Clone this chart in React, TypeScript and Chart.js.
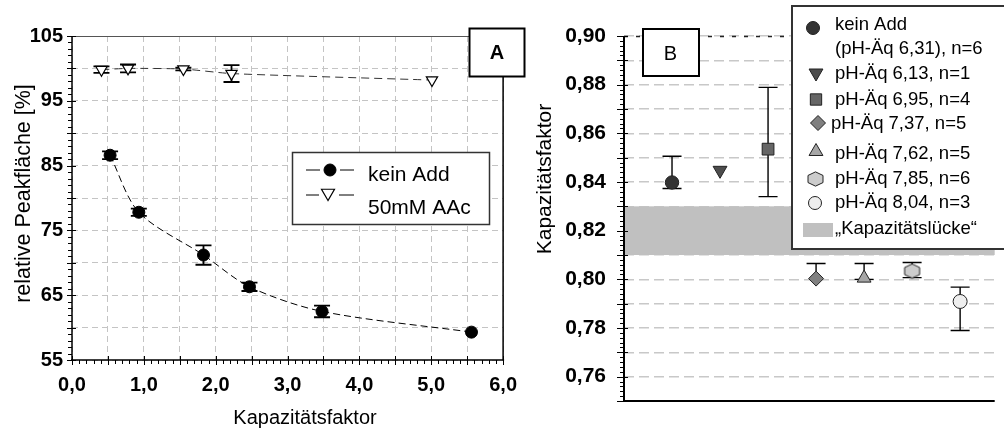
import React, { useEffect, useRef } from 'react';
import { Chart, registerables } from 'chart.js';

Chart.register(...registerables);

const FONT = '"Liberation Sans", Arial, Helvetica, sans-serif';

// ---------- Panel A data ----------
const kfKeinAdd = [0.53, 0.93, 1.83, 2.47, 3.48, 5.56];
const areaKeinAdd = [86.6, 77.8, 71.2, 66.3, 62.5, 59.3];
const errKeinAdd = [0.6, 0.55, 1.5, 0.65, 0.9, 0];
const kfAAc = [0.41, 0.78, 1.55, 2.22, 5.01];
const areaAAc = [99.8, 100.0, 99.9, 99.2, 98.2];
const errAAc = [0.5, 0.6, 0.2, 1.3, 0];
const seriesNamesA = ['kein Add', '50mM AAc'];
const xTicksA = [0, 1, 2, 3, 4, 5, 6];
const yTicksA = [55, 65, 75, 85, 95, 105];
const xTitleA = 'Kapazitätsfaktor';
const yTitleA = 'relative Peakfläche [%]';
const panelLabelA = 'A';

// ---------- Panel B data ----------
const bLabels = [
  ['kein Add', '(pH-Äq 6,31), n=6'],
  ['pH-Äq 6,13, n=1'],
  ['pH-Äq 6,95, n=4'],
  ['pH-Äq 7,37, n=5'],
  ['pH-Äq 7,62, n=5'],
  ['pH-Äq 7,85, n=6'],
  ['pH-Äq 8,04, n=3'],
];
const bPos = [1, 2, 3, 4, 5, 6, 7];
const bValues = [0.8398, 0.8448, 0.8535, 0.8003, 0.8005, 0.8034, 0.7909];
const bHigh = [0.8506, null, 0.8789, 0.8065, 0.8065, 0.8069, 0.7968];
const bLow = [0.8373, null, 0.834, 0.8003, 0.8, 0.8007, 0.779];
const gapRange = [0.81, 0.83];
const gapLabel = '„Kapazitätslücke“';
const yTicksB = [0.76, 0.78, 0.8, 0.82, 0.84, 0.86, 0.88, 0.9];
const yTitleB = 'Kapazitätsfaktor';
const panelLabelB = 'B';

// ---------- styles ----------
const bStyles = ['circle', 'triDown', 'rect', 'diamond', 'triUp', 'hex', 'circle'];
const bFills = ['#333333', '#4d4d4d', '#666666', '#808080', '#a6a6a6', '#cccccc', '#eeeeee'];

function fmt(v: number, d: number) {
  return v.toFixed(d).replace('.', ',');
}

function drawMarker(ctx: CanvasRenderingContext2D, style: string, x: number, y: number, r: number, fill: string, stroke: string, lw: number) {
  ctx.save();
  ctx.beginPath();
  const tri = (start: number) => {
    for (let k = 0; k < 3; k++) {
      const a = start + (k * 2 * Math.PI) / 3;
      const px = x + r * Math.sin(a);
      const py = y - r * Math.cos(a);
      if (k === 0) ctx.moveTo(px, py);
      else ctx.lineTo(px, py);
    }
    ctx.closePath();
  };
  if (style === 'circle') ctx.arc(x, y, r, 0, Math.PI * 2);
  else if (style === 'triUp') tri(0);
  else if (style === 'triDown') tri(Math.PI);
  else if (style === 'rect') {
    const s = r * Math.SQRT1_2;
    ctx.rect(x - s, y - s, 2 * s, 2 * s);
  } else if (style === 'diamond') {
    ctx.moveTo(x, y - r);
    ctx.lineTo(x + r, y);
    ctx.lineTo(x, y + r);
    ctx.lineTo(x - r, y);
    ctx.closePath();
  } else if (style === 'hex') {
    const w = r;
    const h = r * 0.95;
    ctx.moveTo(x, y - h);
    ctx.lineTo(x + w, y - h / 2);
    ctx.lineTo(x + w, y + h / 2);
    ctx.lineTo(x, y + h);
    ctx.lineTo(x - w, y + h / 2);
    ctx.lineTo(x - w, y - h / 2);
    ctx.closePath();
  }
  ctx.fillStyle = fill;
  ctx.fill();
  ctx.lineWidth = lw;
  ctx.strokeStyle = stroke;
  ctx.stroke();
  ctx.restore();
}

const errorBars = {
  id: 'errorBars',
  beforeDatasetsDraw(chart: any) {
    const ctx = chart.ctx;
    const ys = chart.scales.y;
    chart.data.datasets.forEach((ds: any, i: number) => {
      if (!ds.errLow) return;
      const meta = chart.getDatasetMeta(i);
      meta.data.forEach((el: any, j: number) => {
        const lo = ds.errLow[j];
        const hi = ds.errHigh[j];
        const v = ds.data[j].y;
        if (lo == null || hi == null || lo === hi) return;
        const x = el.x;
        const yl = ys.getPixelForValue(lo);
        const yh = ys.getPixelForValue(hi);
        const c = ds.capHalf;
        ctx.save();
        ctx.strokeStyle = '#000';
        ctx.lineWidth = ds.errWidth;
        ctx.beginPath();
        ctx.moveTo(x, yh);
        ctx.lineTo(x, yl);
        if (hi > v) {
          ctx.moveTo(x - c, yh);
          ctx.lineTo(x + c, yh);
        }
        if (lo < v) {
          ctx.moveTo(x - c, yl);
          ctx.lineTo(x + c, yl);
        }
        ctx.stroke();
        ctx.restore();
      });
    });
  },
};

function line(ctx: CanvasRenderingContext2D, x1: number, y1: number, x2: number, y2: number) {
  ctx.beginPath();
  ctx.moveTo(x1, y1);
  ctx.lineTo(x2, y2);
  ctx.stroke();
}

const decorA = {
  id: 'decorA',
  afterDatasetsDraw(chart: any) {
    const ctx = chart.ctx;
    const { left, right, top, bottom } = chart.chartArea;
    const xs = chart.scales.x;
    const ys = chart.scales.y;
    ctx.save();
    // frame
    ctx.strokeStyle = '#555';
    ctx.lineWidth = 1;
    line(ctx, left, top + 0.5, right, top + 0.5);
    ctx.strokeStyle = '#000';
    ctx.lineWidth = 1.5;
    line(ctx, right, top, right, bottom);
    line(ctx, left, top, left, bottom + 1);
    line(ctx, left - 1, bottom, right + 1, bottom);
    // ticks
    ctx.lineWidth = 1;
    for (let k = 55; k <= 105; k++) {
      const y = Math.round(ys.getPixelForValue(k)) + 0.5;
      if (k % 5 === 0) line(ctx, left - 5, y, left + 4, y);
      else line(ctx, left - 4, y, left, y);
    }
    for (let k = 0; k <= 60; k++) {
      const x = Math.round(xs.getPixelForValue(k / 10)) + 0.5;
      if (k % 5 === 0) line(ctx, x, bottom - 4, x, bottom + 5);
      else line(ctx, x, bottom, x, bottom + 4);
    }
    ctx.restore();
  },
  afterDraw(chart: any) {
    const ctx = chart.ctx;
    ctx.save();
    ctx.fillStyle = '#000';
    // axis titles
    ctx.font = `20px ${FONT}`;
    ctx.textAlign = 'center';
    ctx.textBaseline = 'middle';
    ctx.fillText(xTitleA, 305, 418);
    ctx.save();
    ctx.translate(24, 193.5);
    ctx.rotate(-Math.PI / 2);
    ctx.font = `21.5px ${FONT}`;
    ctx.fillText(yTitleA, 0, 0);
    ctx.restore();
    // legend
    ctx.fillStyle = '#fff';
    ctx.fillRect(292.5, 152.5, 197, 72);
    ctx.strokeStyle = '#333';
    ctx.lineWidth = 1.5;
    ctx.strokeRect(292.5, 152.5, 197, 72);
    ctx.strokeStyle = '#000';
    ctx.lineWidth = 1;
    line(ctx, 306, 170, 320, 170);
    line(ctx, 340, 170, 354, 170);
    drawMarker(ctx, 'circle', 330, 170, 6, '#000', '#000', 1);
    line(ctx, 306, 195, 319, 195);
    line(ctx, 339, 195, 354, 195);
    drawMarker(ctx, 'triDown', 328, 193, 7.5, '#fff', '#000', 1.2);
    ctx.fillStyle = '#000';
    ctx.font = `21px ${FONT}`;
    ctx.textAlign = 'left';
    ctx.fillText(seriesNamesA[0], 368, 175);
    ctx.fillText(seriesNamesA[1], 368, 208);
    // panel label
    ctx.fillStyle = '#fff';
    ctx.fillRect(469.5, 28.5, 55, 48);
    ctx.strokeStyle = '#000';
    ctx.lineWidth = 2;
    ctx.strokeRect(469.5, 28.5, 55, 48);
    ctx.fillStyle = '#000';
    ctx.font = `bold 20px ${FONT}`;
    ctx.textAlign = 'center';
    ctx.fillText(panelLabelA, 497, 53.5);
    ctx.restore();
  },
};

const decorB = {
  id: 'decorB',
  beforeDatasetsDraw(chart: any) {
    const ctx = chart.ctx;
    const { left, right } = chart.chartArea;
    const ys = chart.scales.y;
    const y1 = ys.getPixelForValue(gapRange[1]);
    const y2 = ys.getPixelForValue(gapRange[0]);
    ctx.save();
    ctx.fillStyle = '#c0c0c0';
    ctx.fillRect(left, y1, right - left, y2 - y1);
    ctx.restore();
  },
  afterDatasetsDraw(chart: any) {
    const ctx = chart.ctx;
    const { left, right, top, bottom } = chart.chartArea;
    const ys = chart.scales.y;
    ctx.save();
    ctx.strokeStyle = '#222';
    ctx.lineWidth = 1.5;
    ctx.setLineDash([4, 8]);
    line(ctx, left, top + 0.5, right, top + 0.5);
    ctx.setLineDash([]);
    ctx.strokeStyle = '#000';
    ctx.lineWidth = 2;
    line(ctx, left, top, left, bottom + 1);
    line(ctx, left - 1, bottom, right, bottom);
    ctx.lineWidth = 1;
    for (let k = 375; k <= 450; k++) {
      const y = Math.round(ys.getPixelForValue(k * 0.002)) + 0.5;
      if (k % 5 === 0) line(ctx, left - 7, y, left + 4, y);
      else line(ctx, left - 4, y, left, y);
    }
    ctx.restore();
  },
  afterDraw(chart: any) {
    const ctx = chart.ctx;
    ctx.save();
    // y title
    ctx.fillStyle = '#000';
    ctx.font = `21px ${FONT}`;
    ctx.textAlign = 'center';
    ctx.textBaseline = 'middle';
    ctx.save();
    ctx.translate(25.5, 179);
    ctx.rotate(-Math.PI / 2);
    ctx.fillText(yTitleB, 0, 0);
    ctx.restore();
    // panel label
    ctx.fillStyle = '#fff';
    ctx.fillRect(123, 29, 56, 47);
    ctx.strokeStyle = '#000';
    ctx.lineWidth = 2;
    ctx.strokeRect(123, 29, 56, 47);
    ctx.fillStyle = '#000';
    ctx.font = `20px ${FONT}`;
    ctx.fillText(panelLabelB, 150.5, 54.5);
    // legend
    ctx.fillStyle = '#fff';
    ctx.fillRect(272, 6, 300, 243);
    ctx.strokeStyle = '#333';
    ctx.lineWidth = 2;
    ctx.strokeRect(272, 6, 300, 243);
    const rowY = [25, 74, 100, 123.5, 153.5, 179, 202.5];
    const markY = [28, 73, 99.5, 123, 151.5, 179, 203];
    const markX = [293, 296, 296, 298, 296, 295.5, 295];
    const markR = [6.5, 8, 8, 7.5, 8, 7.5, 6.5];
    ctx.font = `18.5px ${FONT}`;
    ctx.textAlign = 'left';
    bLabels.forEach((lines, i) => {
      drawMarker(ctx, bStyles[i], markX[i], markY[i], markR[i], bFills[i], '#222', 1);
      ctx.fillStyle = '#000';
      lines.forEach((t, k) => {
        ctx.fillText(t, i === 3 ? 311 : 315, rowY[i] + k * 23.5);
      });
    });
    ctx.fillStyle = '#c0c0c0';
    ctx.fillRect(283, 223, 30, 14);
    ctx.fillStyle = '#000';
    ctx.fillText(gapLabel, 315, 229);
    ctx.restore();
  },
};

function makeHexImage(r: number, fill: string) {
  const c = document.createElement('canvas');
  const size = Math.ceil(2 * r + 4);
  c.width = size;
  c.height = size;
  const ctx = c.getContext('2d') as CanvasRenderingContext2D;
  drawMarker(ctx, 'hex', size / 2, size / 2, r, fill, '#222', 1);
  return c;
}

export default function App() {
  const refA = useRef<HTMLCanvasElement | null>(null);
  const refB = useRef<HTMLCanvasElement | null>(null);

  useEffect(() => {
    const tickFontA = { family: FONT, size: 20, weight: 'bold' as const };
    const tickFontB = { family: FONT, size: 21, weight: 'bold' as const };
    const chartA = new Chart(refA.current as HTMLCanvasElement, {
      type: 'scatter',
      data: {
        datasets: [
          {
            label: seriesNamesA[0],
            data: kfKeinAdd.map((x, i) => ({ x, y: areaKeinAdd[i] })),
            showLine: true,
            borderColor: '#000',
            borderWidth: 1,
            borderDash: [7, 4],
            tension: 0.3,
            pointStyle: 'circle',
            pointRadius: 6,
            pointBackgroundColor: '#000',
            pointBorderColor: '#000',
            errLow: areaKeinAdd.map((v, i) => (errKeinAdd[i] ? v - errKeinAdd[i] : null)),
            errHigh: areaKeinAdd.map((v, i) => (errKeinAdd[i] ? v + errKeinAdd[i] : null)),
            capHalf: 8,
            errWidth: 1.8,
          } as any,
          {
            label: seriesNamesA[1],
            data: kfAAc.map((x, i) => ({ x, y: areaAAc[i] })),
            showLine: true,
            borderColor: '#333',
            borderWidth: 1,
            borderDash: [8, 5],
            tension: 0.2,
            pointStyle: 'triangle',
            pointRotation: 180,
            pointRadius: 6.5,
            pointBackgroundColor: '#fff',
            pointBorderColor: '#000',
            pointBorderWidth: 1.2,
            errLow: areaAAc.map((v, i) => (errAAc[i] ? v - errAAc[i] : null)),
            errHigh: areaAAc.map((v, i) => (errAAc[i] ? v + errAAc[i] : null)),
            capHalf: 8,
            errWidth: 1.8,
          } as any,
        ],
      },
      options: {
        animation: false,
        responsive: false,
        layout: { padding: { top: 36, right: 19, left: 0, bottom: 0 } },
        plugins: { legend: { display: false }, tooltip: { enabled: false } },
        scales: {
          x: {
            type: 'linear',
            min: 0,
            max: 6,
            afterFit: (s: any) => {
              s.height = 72;
            },
            ticks: {
              stepSize: 0.5,
              autoSkip: false,
              maxRotation: 0,
              padding: 13,
              color: '#000',
              font: tickFontA,
              callback: (v: any) => (xTicksA.includes(Number(v)) ? fmt(Number(v), 1) : ''),
            },
            grid: { color: '#c4c4c4', lineWidth: 1, drawTicks: false },
            border: { display: false, dash: [6, 4] },
          },
          y: {
            min: 55,
            max: 105,
            afterFit: (s: any) => {
              s.width = 72;
            },
            ticks: {
              stepSize: 5,
              autoSkip: false,
              padding: 9,
              color: '#000',
              font: tickFontA,
              callback: (v: any) => (yTicksA.includes(Number(v)) ? String(v) : ''),
            },
            grid: { color: '#c4c4c4', lineWidth: 1, drawTicks: false },
            border: { display: false, dash: [6, 4] },
          },
        },
      } as any,
      plugins: [errorBars, decorA],
    });

    const hexImg = makeHexImage(7.5, bFills[5]);
    const chartPointStyles = ['circle', 'triangle', 'rect', 'rectRot', 'triangle', hexImg, 'circle'];
    const chartRot = [0, 180, 0, 0, 0, 0, 0];
    const chartRadius = [6.7, 8, 8.3, 7.5, 8, 7.5, 7];

    const chartB = new Chart(refB.current as HTMLCanvasElement, {
      type: 'scatter',
      data: {
        datasets: [
          {
            label: 'B',
            data: bPos.map((x, i) => ({ x, y: bValues[i] })),
            showLine: false,
            pointStyle: chartPointStyles,
            pointRotation: chartRot,
            pointRadius: chartRadius,
            pointBackgroundColor: bFills,
            pointBorderColor: '#222',
            pointBorderWidth: 1,
            errLow: bLow,
            errHigh: bHigh,
            capHalf: 9.5,
            errWidth: 1.4,
          } as any,
        ],
      },
      options: {
        animation: false,
        responsive: false,
        layout: { padding: { top: 36, right: 0, left: 0, bottom: 31 } },
        plugins: { legend: { display: false }, tooltip: { enabled: false } },
        scales: {
          x: { type: 'linear', display: false, min: 0, max: 7.72 },
          y: {
            min: 0.75,
            max: 0.9,
            afterFit: (s: any) => {
              s.width = 104;
            },
            ticks: {
              stepSize: 0.01,
              maxTicksLimit: 100,
              autoSkip: false,
              padding: 18,
              color: '#000',
              font: tickFontB,
              callback: (v: any) => {
                const k = Math.round(Number(v) * 100);
                return yTicksB.some((t) => Math.round(t * 100) === k) ? fmt(k / 100, 2) : '';
              },
            },
            grid: { color: '#c8c8c8', lineWidth: 1.5, drawTicks: false },
            border: { display: false, dash: [10, 5] },
          },
        },
      } as any,
      plugins: [errorBars, decorB],
    });

    return () => {
      chartA.destroy();
      chartB.destroy();
    };
  }, []);

  return (
    <div style={{ position: 'absolute', left: 0, top: 0, width: 1004, height: 432, background: '#fff', overflow: 'hidden' }}>
      <div style={{ position: 'absolute', left: 0, top: 0, width: 530, height: 432 }}>
        <canvas ref={refA} width={530} height={432} style={{ width: 530, height: 432, display: 'block' }} />
      </div>
      <div style={{ position: 'absolute', left: 520, top: 0, width: 484, height: 432 }}>
        <canvas ref={refB} width={484} height={432} style={{ width: 484, height: 432, display: 'block' }} />
      </div>
    </div>
  );
}
